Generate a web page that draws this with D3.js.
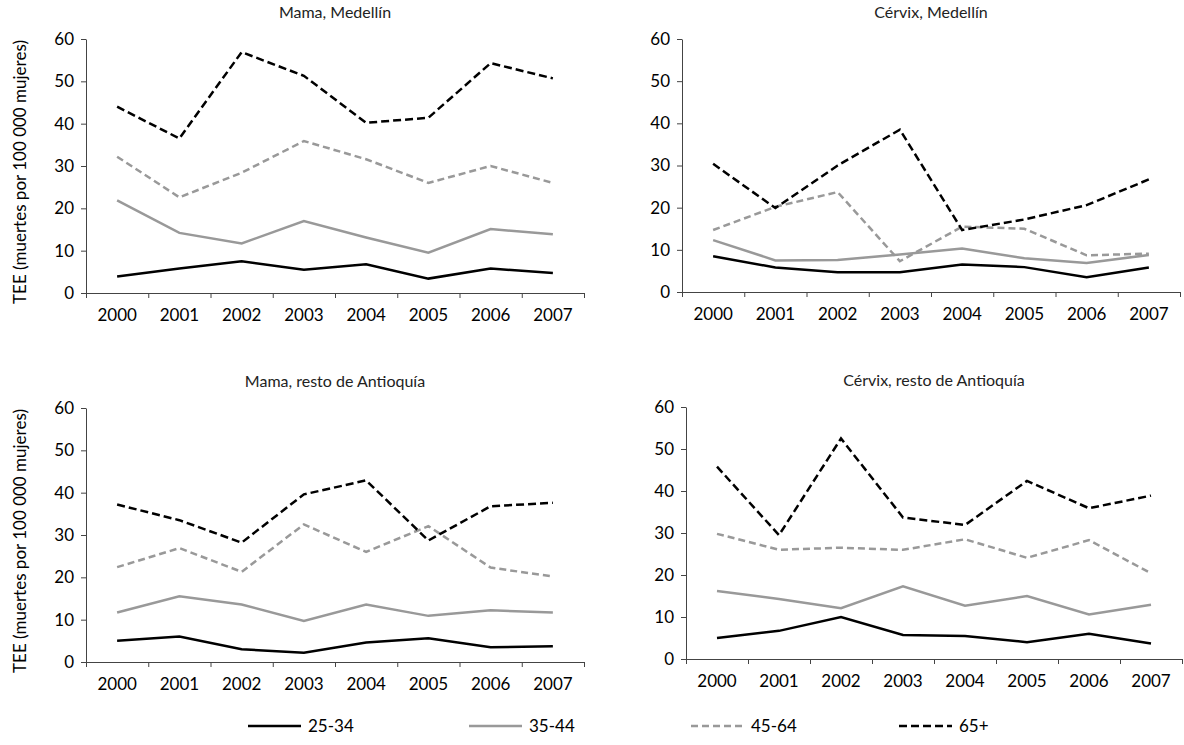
<!DOCTYPE html>
<html>
<head>
<meta charset="utf-8">
<script src="https://cdn.jsdelivr.net/npm/d3@7"></script>
<style>
  html, body { margin: 0; padding: 0; background: #fff; }
  svg { display: block; font-family: Lato, "Open Sans", sans-serif; }
</style>
</head>
<body>
<div id="chart"></div>
<script>
const years = ["2000", "2001", "2002", "2003", "2004", "2005", "2006", "2007"];
const ageGroups = ["25-34", "35-44", "45-64", "65+"];
const yTicks = [0, 10, 20, 30, 40, 50, 60];

// each panel: one array per age group, same order as ageGroups
const mamaMedellin = [
  [3.9, 5.8, 7.5, 5.5, 6.8, 3.4, 5.8, 4.7],
  [21.9, 14.2, 11.7, 17.0, 13.1, 9.5, 15.1, 13.9],
  [32.2, 22.6, 28.4, 35.9, 31.6, 26.0, 30.0, 26.0],
  [44.0, 36.5, 56.9, 51.3, 40.2, 41.4, 54.3, 50.7]
];
const cervixMedellin = [
  [8.5, 5.8, 4.7, 4.7, 6.5, 5.9, 3.5, 5.8],
  [12.3, 7.5, 7.6, 8.9, 10.3, 8.0, 6.9, 8.8],
  [14.7, 20.2, 23.7, 7.3, 15.5, 15.0, 8.7, 9.1],
  [30.4, 19.9, 30.0, 38.5, 14.7, 17.2, 20.6, 26.7]
];
const mamaAntioquia = [
  [5.0, 6.0, 3.0, 2.2, 4.6, 5.6, 3.5, 3.7],
  [11.7, 15.5, 13.6, 9.7, 13.6, 10.9, 12.2, 11.7],
  [22.4, 26.9, 21.3, 32.5, 26.0, 32.1, 22.3, 20.2],
  [37.2, 33.5, 28.2, 39.6, 42.9, 28.7, 36.8, 37.6]
];
const cervixAntioquia = [
  [5.0, 6.7, 10.0, 5.7, 5.5, 4.0, 6.0, 3.7],
  [16.2, 14.3, 12.1, 17.3, 12.7, 15.0, 10.6, 12.9],
  [29.8, 26.0, 26.5, 26.0, 28.5, 24.1, 28.3, 20.4],
  [45.8, 29.5, 52.5, 33.7, 31.9, 42.4, 35.9, 38.9]
];

const panelTitles = ["Mama, Medellín", "Cérvix, Medellín", "Mama, resto de Antioquía", "Cérvix, resto de Antioquía"];
const panelData = [mamaMedellin, cervixMedellin, mamaAntioquia, cervixAntioquia];

const W = 1184, H = 745;
const boxes = [
  { left: 86, right: 584, top: 39, bottom: 293, yTitle: true },
  { left: 682, right: 1180, top: 39, bottom: 292, yTitle: false },
  { left: 86, right: 584, top: 408, bottom: 662, yTitle: true },
  { left: 686, right: 1182, top: 407, bottom: 659, yTitle: false }
];

const seriesStyle = [
  { color: "#000", dash: null },
  { color: "#999", dash: null },
  { color: "#999", dash: "7,4" },
  { color: "#000", dash: "8,4" }
];

const svg = d3.select("#chart").append("svg")
  .attr("width", W)
  .attr("height", H);

boxes.forEach((b, p) => {
  const g = svg.append("g");

  const x = d3.scaleBand().domain(years).range([b.left, b.right]).padding(0);
  const xIdx = d3.scaleLinear().domain([0, years.length]).range([b.left, b.right]);
  const y = d3.scaleLinear().domain([0, 60]).range([b.bottom, b.top]);

  // x axis: boundary ticks
  g.append("g")
    .attr("transform", `translate(0,${b.bottom})`)
    .call(d3.axisBottom(xIdx).tickValues(d3.range(0, years.length + 1)).tickFormat("").tickSize(5).tickSizeOuter(0))
    .call(ax => ax.selectAll("path, line").attr("stroke", "#444"));

  // x labels at band centres
  g.append("g")
    .attr("transform", `translate(0,${b.bottom})`)
    .call(d3.axisBottom(x).tickSize(0).tickPadding(16))
    .call(ax => ax.select(".domain").remove())
    .call(ax => ax.selectAll("text").attr("font-size", 17).attr("fill", "#000").attr("font-family", "Lato"));

  // y axis
  g.append("g")
    .attr("transform", `translate(${b.left},0)`)
    .call(d3.axisLeft(y).tickValues(yTicks).tickSize(5).tickSizeOuter(0).tickPadding(7))
    .call(ax => ax.selectAll("path, line").attr("stroke", "#444"))
    .call(ax => ax.selectAll("text").attr("font-size", 17).attr("fill", "#000").attr("font-family", "Lato"));

  // title
  g.append("text")
    .attr("x", (b.left + b.right) / 2)
    .attr("y", b.top - 21)
    .attr("text-anchor", "middle")
    .attr("font-size", 16)
    .attr("fill", "#222")
    .text(panelTitles[p]);

  if (b.yTitle) {
    g.append("text")
      .attr("transform", `translate(20,${(b.top + b.bottom) / 2 + 6}) rotate(-90)`)
      .attr("text-anchor", "middle")
      .attr("dy", "0.35em")
      .attr("font-size", 17)
      .attr("fill", "#000")
      .text("TEE (muertes por 100 000 mujeres)");
  }

  const line = d3.line()
    .x((d, i) => x(years[i]) + x.bandwidth() / 2)
    .y(d => y(d));

  panelData[p].forEach((vals, s) => {
    g.append("path")
      .datum(vals)
      .attr("fill", "none")
      .attr("stroke", seriesStyle[s].color)
      .attr("stroke-width", 2.5)
      .attr("stroke-dasharray", seriesStyle[s].dash)
      .attr("d", line);
  });
});

// legend
const legendX = [248, 469, 691, 899];
const legendY = 726;
const legend = svg.append("g");
ageGroups.forEach((name, i) => {
  legend.append("line")
    .attr("x1", legendX[i]).attr("x2", legendX[i] + 53)
    .attr("y1", legendY).attr("y2", legendY)
    .attr("stroke", seriesStyle[i].color)
    .attr("stroke-width", 2.5)
    .attr("stroke-dasharray", seriesStyle[i].dash);
  legend.append("text")
    .attr("x", legendX[i] + 60)
    .attr("y", legendY)
    .attr("dy", "0.35em")
    .attr("font-size", 17)
    .attr("fill", "#000")
    .text(name);
});
</script>
</body>
</html>
